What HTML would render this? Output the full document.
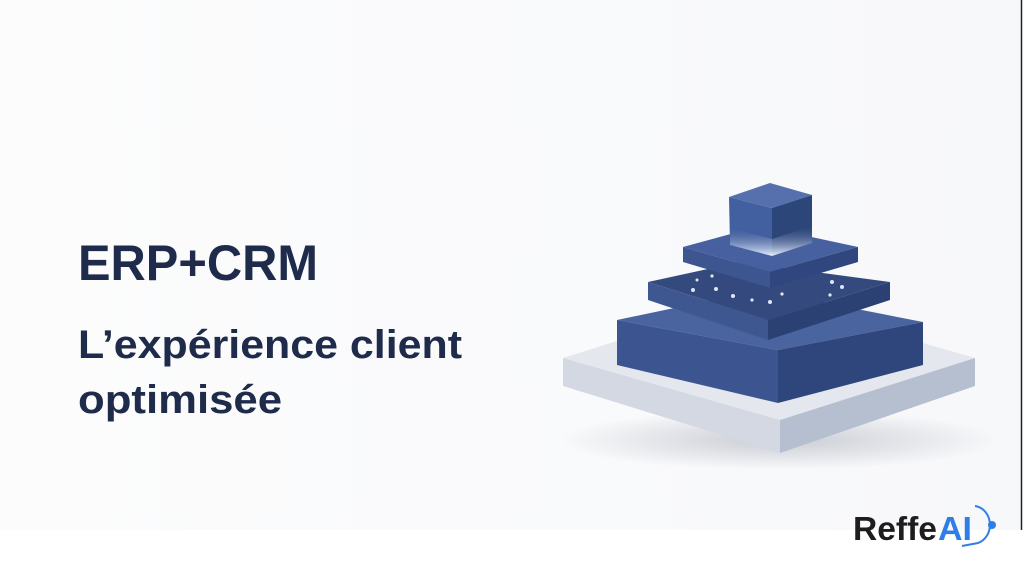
<!DOCTYPE html>
<html><head><meta charset="utf-8"><style>
html,body{margin:0;padding:0;width:1024px;height:576px;overflow:hidden;background:#fff}
</style></head><body>
<svg width="1024" height="576" viewBox="0 0 1024 576" xmlns="http://www.w3.org/2000/svg">
<defs>
<linearGradient id="bg" x1="0" y1="0" x2="1" y2="0"><stop offset="0" stop-color="#fcfcfd"/><stop offset="1" stop-color="#f7f8fa"/></linearGradient>
<linearGradient id="gl" x1="0" y1="0" x2="0" y2="1"><stop offset="0" stop-color="#3e5894" stop-opacity="0"/><stop offset="1" stop-color="#e8f0ff"/></linearGradient>
<radialGradient id="sh" cx="0.5" cy="0.5" r="0.5"><stop offset="0" stop-color="#c9ccd4"/><stop offset="1" stop-color="#c9ccd4" stop-opacity="0"/></radialGradient>
</defs>
<rect x="0" y="0" width="1021" height="530" fill="url(#bg)"/>
<line x1="1021.5" y1="0" x2="1021.5" y2="530" stroke="#222" stroke-width="1.5"/>
<g font-family="Liberation Sans, sans-serif" font-weight="bold" fill="#1e2b4a">
<text x="78" y="280" font-size="50" textLength="240" lengthAdjust="spacingAndGlyphs">ERP+CRM</text>
<text x="78" y="358" font-size="40" textLength="384" lengthAdjust="spacingAndGlyphs">L’expérience client</text>
<text x="78" y="413" font-size="40" textLength="204" lengthAdjust="spacingAndGlyphs">optimisée</text>
</g>
<ellipse cx="780" cy="440" rx="220" ry="30" fill="url(#sh)"/>
<polygon points="563,358 760,296 975,358 780,420" fill="#e4e7ee"/>
<polygon points="563,358 780,420 780,453 563,386" fill="#d3d8e2"/>
<polygon points="780,420 975,358 975,386 780,453" fill="#b6bfcf"/>
<polygon points="617,320 760,290 923,322 778,350" fill="#4a64a0"/>
<polygon points="617,320 778,350 778,403 617,365" fill="#3c5591"/>
<polygon points="778,350 923,322 923,365 778,403" fill="#2f467c"/>
<polygon points="648,282 740,262 890,282 768,320" fill="#34497e"/>
<polygon points="648,282 768,320 768,340 648,300" fill="#3e5790"/>
<polygon points="768,320 890,282 890,300 768,340" fill="#2c4173"/>
<g fill="#dfe6f5">
<circle cx="693" cy="290" r="2"/><circle cx="716" cy="289" r="2"/><circle cx="733" cy="296" r="2"/><circle cx="752" cy="300" r="1.6"/><circle cx="770" cy="302" r="2"/><circle cx="782" cy="294" r="1.6"/><circle cx="832" cy="282" r="2"/><circle cx="842" cy="287" r="2"/><circle cx="830" cy="295" r="1.6"/><circle cx="712" cy="276" r="1.6"/><circle cx="697" cy="280" r="1.5"/>
</g>
<polygon points="683,247 760,226 858,247 770,272" fill="#4660a0"/>
<polygon points="683,247 770,272 770,288 683,262" fill="#3d5690"/>
<polygon points="770,272 858,247 858,262 770,288" fill="#2f467e"/>
<polygon points="729,197 770,183 812,195 772,208" fill="#5570ad"/>
<polygon points="729,197 772,208 772,256 730,245" fill="#42609f"/>
<polygon points="772,208 812,195 812,243 772,256" fill="#2d4679"/>
<polygon points="730,228 772,239 812,226 812,243 772,256 730,245" fill="url(#gl)"/>
<text x="853" y="540" font-family="Liberation Sans, sans-serif" font-weight="bold" font-size="33" fill="#1d1d1f" textLength="84" lengthAdjust="spacingAndGlyphs">Reffe</text>
<text x="938" y="540" font-family="Liberation Sans, sans-serif" font-weight="bold" font-size="33" fill="#2f7ee8" textLength="34" lengthAdjust="spacingAndGlyphs">AI</text>
<path d="M975,506 A17,19 0 0 1 978,543 L962,546" fill="none" stroke="#2f7ee8" stroke-width="2"/>
<circle cx="992" cy="525" r="4" fill="#2f7ee8"/>
</svg>
</body></html>
